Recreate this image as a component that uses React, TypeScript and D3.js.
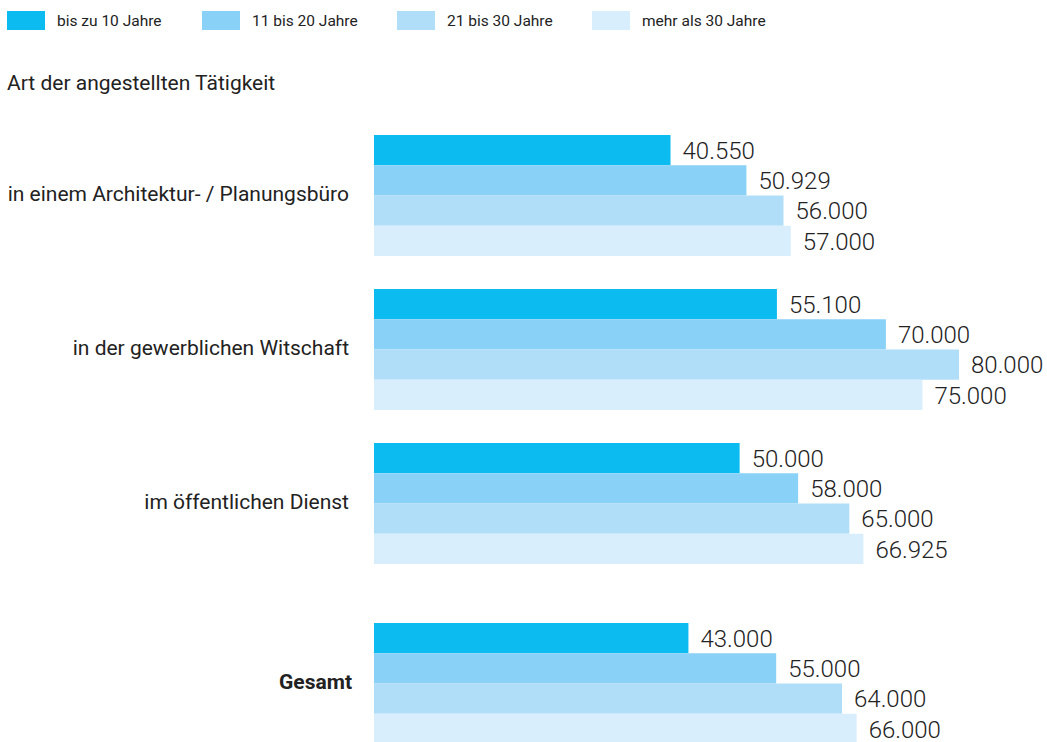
import React, { useEffect, useRef } from 'react';
import * as d3 from 'd3';

const categories = [
  'in einem Architektur- / Planungsbüro',
  'in der gewerblichen Witschaft',
  'im öffentlichen Dienst',
  'Gesamt',
];
const series = ['bis zu 10 Jahre', '11 bis 20 Jahre', '21 bis 30 Jahre', 'mehr als 30 Jahre'];
const colors = ['#0cbbef', '#89d1f7', '#b0def8', '#d9eefc'];

const upTo10 = [40550, 55100, 50000, 43000];
const from11to20 = [50929, 70000, 58000, 55000];
const from21to30 = [56000, 80000, 65000, 64000];
const over30 = [57000, 75000, 66925, 66000];
const values = [upTo10, from11to20, from21to30, over30];

const title = 'Art der angestellten Tätigkeit';

const fmt = (v: number) => d3.format(',')(v).replace(/,/g, '.');

function App() {
  const ref = useRef<SVGSVGElement>(null);

  useEffect(() => {
    if (!ref.current) return;
    const width = 1047;
    const height = 742;
    const svg = d3.select(ref.current);
    svg.selectAll('*').remove();
    svg.attr('width', width).attr('height', height);

    const font = 'Roboto, "DejaVu Sans", sans-serif';

    // legend
    const legend = svg.append('g');
    series.forEach((s, i) => {
      const g = legend.append('g').attr('transform', `translate(${7 + i * 195},11)`);
      g.append('rect').attr('width', 38).attr('height', 19).attr('fill', colors[i]);
      g.append('text')
        .attr('x', 50)
        .attr('y', 10)
        .attr('dy', '0.35em')
        .attr('font-family', font)
        .attr('font-size', 15.5)
        .attr('fill', '#222')
        .text(s);
    });

    svg.append('text')
      .attr('x', 7)
      .attr('y', 83)
      .attr('dy', '0.35em')
      .attr('font-family', font)
      .attr('font-size', 21)
      .attr('fill', '#222')
      .text(title);

    const x = d3.scaleLinear().domain([0, 80000]).range([374, 959]);
    const groupStep = 154;
    const gesamtGap = 26;
    const groupY = (i: number) => 135 + i * groupStep + (i === categories.length - 1 ? gesamtGap : 0);
    const inner = d3.scaleBand().domain(series).range([0, 121]);

    categories.forEach((c, ci) => {
      const g = svg.append('g').attr('transform', `translate(0,${groupY(ci)})`);
      series.forEach((s, si) => {
        const v = values[si][ci];
        g.append('rect')
          .attr('x', x(0))
          .attr('y', inner(s)!)
          .attr('width', x(v) - x(0))
          .attr('height', inner.bandwidth())
          .attr('fill', colors[si]);
        g.append('text')
          .attr('x', x(v) + 12)
          .attr('y', inner(s)! + inner.bandwidth() / 2)
          .attr('dy', '0.36em')
          .attr('font-family', font)
          .attr('font-weight', 300)
          .attr('font-size', 24)
          .attr('fill', '#222')
          .text(fmt(v));
      });
      g.append('text')
        .attr('x', ci === categories.length - 1 ? 352 : 349)
        .attr('y', 59)
        .attr('dy', '0.35em')
        .attr('text-anchor', 'end')
        .attr('font-family', font)
        .attr('font-size', 21)
        .attr('font-weight', ci === categories.length - 1 ? 700 : 400)
        .attr('fill', '#222')
        .text(c);
    });
  }, []);

  return <svg ref={ref} style={{ position: 'absolute', left: 0, top: 0 }} />;
}

export default App;
